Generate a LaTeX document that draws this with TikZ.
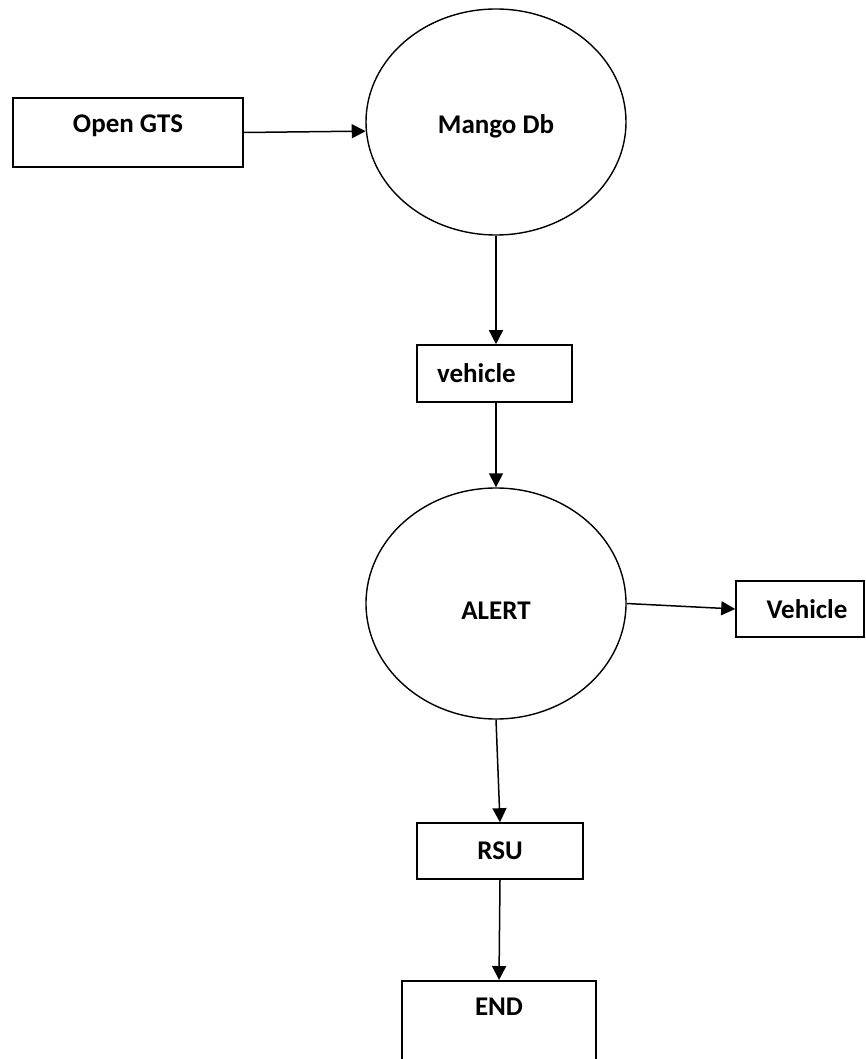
\documentclass[tikz,border=0pt]{standalone}
\usepackage{fontspec}
\setmainfont{Carlito}
\usetikzlibrary{shapes.geometric,arrows.meta}
\tikzset{
  lbl/.style={font=\fontsize{27}{32}\selectfont\bfseries},
  boxnode/.style={draw, line width=1.6pt, rectangle, inner sep=0pt, lbl},
  ovalnode/.style={draw, line width=1.4pt, ellipse, inner sep=0pt, lbl},
  flow/.style={line width=1.5pt, -{Triangle[length=14pt,width=14pt]}}
}
\begin{document}
\begin{tikzpicture}[x=1pt,y=-1pt]
\useasboundingbox (0,0) rectangle (865,1059);
\clip (0,0) rectangle (865,1059);
\node[boxnode, minimum width=230pt, minimum height=69pt,
      label={[lbl,yshift=6.5pt]center:Open GTS}] (gts) at (128,132.5) {};
\node[ovalnode, minimum width=260pt, minimum height=226pt,
      label={[lbl,yshift=-4pt]center:Mango Db}] (mango) at (496,122) {};
\node[boxnode, minimum width=155pt, minimum height=57pt, inner xsep=20pt, text width=115pt, align=left] (veh1) at (494.5,373.5) {vehicle};
\node[ovalnode, minimum width=260pt, minimum height=231pt,
      label={[lbl,yshift=-7.5pt]center:ALERT}] (alert) at (496,603.5) {};
\node[boxnode, minimum width=128pt, minimum height=56pt] (veh2) at (800,609) {\hspace*{14pt}Vehicle};
\node[boxnode, minimum width=166pt, minimum height=56pt] (rsu) at (500,851) {RSU};
\node[boxnode, minimum width=194pt, minimum height=110pt, anchor=north] (end) at (499,980) {};
\node[lbl] (endtxt) at (499,1007) {END};
\draw[flow] (gts.east) -- (mango.184);
\draw[flow] (mango.south) -- (mango.south |- veh1.north);
\draw[flow] (alert.north |- veh1.south) -- (alert.north);
\draw[flow] (alert.east) -- (veh2.west);
\draw[flow] (alert.south) -- (rsu.north);
\draw[flow] (rsu.south) -- (end.north);
\end{tikzpicture}
\end{document}
